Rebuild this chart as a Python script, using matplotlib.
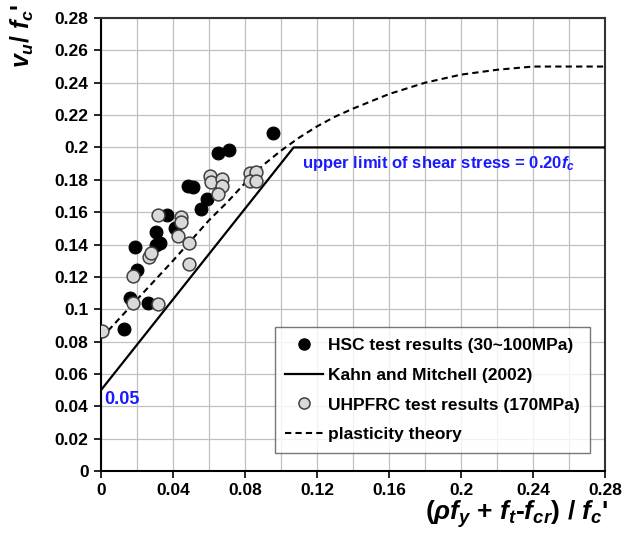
import matplotlib
matplotlib.use("Agg")
from matplotlib import pyplot as plt
from matplotlib.lines import Line2D
import numpy as np

plt.rcParams['font.family'] = ['Liberation Sans', 'DejaVu Sans']
plt.rcParams['font.weight'] = 'bold'
plt.rcParams['mathtext.fontset'] = 'custom'
plt.rcParams['mathtext.rm'] = 'Liberation Sans:bold'
plt.rcParams['mathtext.it'] = 'Liberation Sans:italic:bold'
plt.rcParams['mathtext.bf'] = 'Liberation Sans:bold'

# HSC test results (30~100MPa)
hsc_x = [0.013, 0.016, 0.026, 0.0198, 0.0189, 0.0306, 0.0328, 0.0306, 0.0411, 0.0365,
         0.0481, 0.0509, 0.0556, 0.0589, 0.0652, 0.0711, 0.0957]
hsc_y = [0.0878, 0.1067, 0.104, 0.1242, 0.1383, 0.1397, 0.1407, 0.148, 0.150, 0.158,
         0.1761, 0.1753, 0.1617, 0.168, 0.1963, 0.1984, 0.209]

# UHPFRC test results (170MPa)
uhp_x = [0.0007, 0.018, 0.0319, 0.018, 0.0268, 0.0275, 0.0319, 0.0444, 0.0444, 0.043,
         0.0489, 0.0489, 0.0606, 0.0609, 0.067, 0.0674, 0.0652, 0.0828, 0.0859, 0.0828, 0.0859]
uhp_y = [0.0867, 0.1036, 0.103, 0.1207, 0.1325, 0.1345, 0.158, 0.157, 0.154, 0.1452,
         0.141, 0.1277, 0.1823, 0.1788, 0.1803, 0.1761, 0.1712, 0.184, 0.1848, 0.1795, 0.1795]

# Kahn and Mitchell (2002)
km_x = [0, 0.107, 0.28]
km_y = [0.05, 0.2, 0.2]

# plasticity theory
pl_x = [0, 0.02, 0.04, 0.06, 0.07, 0.08, 0.09, 0.10, 0.11, 0.12, 0.13, 0.14,
        0.16, 0.18, 0.20, 0.22, 0.24, 0.26, 0.28]
pl_y = [0.082, 0.106, 0.130, 0.155, 0.166, 0.178, 0.189, 0.198, 0.206, 0.213, 0.219, 0.224,
        0.233, 0.240, 0.245, 0.248, 0.250, 0.250, 0.250]

xticks = [0, 0.04, 0.08, 0.12, 0.16, 0.2, 0.24, 0.28]
yticks = [0, 0.02, 0.04, 0.06, 0.08, 0.1, 0.12, 0.14, 0.16, 0.18, 0.2, 0.22, 0.24, 0.26, 0.28]

fig = plt.figure(figsize=(6.22, 5.44), dpi=100)
ax = fig.add_axes([0.1624, 0.1342, 0.8103, 0.8327])

ax.plot(km_x, km_y, color='black', lw=1.6, zorder=3)
ax.plot(pl_x, pl_y, color='black', lw=1.5, ls=(0, (3, 2)), zorder=3)
ax.scatter(hsc_x, hsc_y, s=85, color='black', edgecolor='black', lw=0.8, zorder=4)
ax.scatter(uhp_x, uhp_y, s=85, color='#d9d9d9', edgecolor='#404040', lw=1.1, zorder=5)

ax.set_xlim(0, 0.28)
ax.set_ylim(0, 0.28)
ax.set_xticks(xticks)
ax.set_xticklabels(['{:g}'.format(v) for v in xticks])
ax.set_xticks(np.arange(0.02, 0.28, 0.04), minor=True)
ax.set_yticks(yticks)
ax.set_yticklabels(['{:g}'.format(v) for v in yticks])
ax.tick_params(axis='both', which='major', direction='out', length=5, width=1.2,
               labelsize=12.5, pad=4)
ax.tick_params(axis='x', which='minor', length=0)
ax.grid(True, which='both', color='#c0c0c0', lw=0.9)
ax.set_axisbelow(True)
for s in ['left', 'bottom']:
    ax.spines[s].set_linewidth(1.5)
    ax.spines[s].set_color('black')
for s in ['top', 'right']:
    ax.spines[s].set_linewidth(1.5)
    ax.spines[s].set_color('#333333')

ax.text(0.1117, 0.187, r"upper limit of shear stress = 0.20$f_c$", color='#1a1aff',
        fontsize=12, fontweight='bold', ha='left', va='baseline', zorder=6)
ax.text(0.002, 0.0445, "0.05", color='#1a1aff', fontsize=13, fontweight='bold',
        ha='left', va='center', zorder=6)

handles = [
    Line2D([], [], ls='none', marker='o', ms=8, mfc='black', mec='black'),
    Line2D([], [], color='black', lw=1.6),
    Line2D([], [], ls='none', marker='o', ms=8, mfc='#d9d9d9', mec='#404040', mew=1.1),
    Line2D([], [], color='black', lw=1.5, ls=(0, (3, 2))),
]
labels = ['HSC test results (30~100MPa)', 'Kahn and Mitchell (2002)',
          'UHPFRC test results (170MPa)', 'plasticity theory']
leg = ax.legend(handles, labels, loc='lower right', bbox_to_anchor=(0.97, 0.04),
                fontsize=12.5, frameon=True, fancybox=False, handlelength=2.2,
                handletextpad=0.25, labelspacing=0.85, borderpad=0.6, borderaxespad=0)
leg.get_frame().set_edgecolor('#555555')
leg.get_frame().set_linewidth(1.0)
for t in leg.get_texts():
    t.set_fontweight('bold')

fig.text(0.036, 0.935, r"$v_u$/ $f_c$'", rotation=90, fontsize=18,
         ha='center', va='center')
fig.text(0.83, 0.055, r"$(\rho f_y$ + $f_t$-$f_{cr})$ / $f_c$'", fontsize=19,
         ha='center', va='center')

fig.savefig('out.png', dpi=100)
